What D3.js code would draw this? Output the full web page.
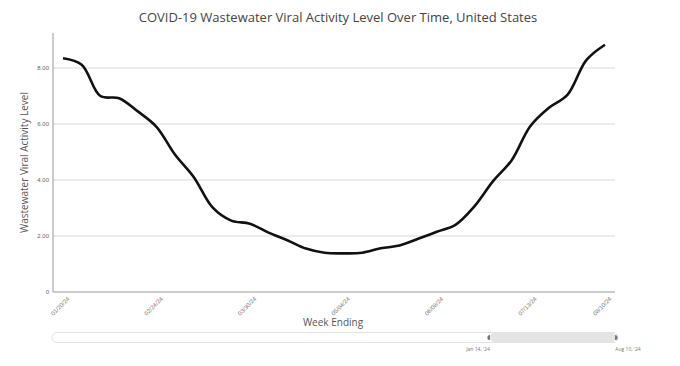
<!DOCTYPE html>
<html>
<head>
<meta charset="utf-8">
<script src="https://cdn.jsdelivr.net/npm/d3@7"></script>
<style>
  body { margin: 0; background: #fff; }
  svg { font-family: "Open Sans", sans-serif; }
</style>
</head>
<body>
<svg id="chart" width="680" height="366"></svg>
<script>
// weekly data, week ending dates
const weeks = ['2024-01-20','2024-01-27','2024-02-03','2024-02-10','2024-02-17','2024-02-24',
  '2024-03-02','2024-03-09','2024-03-16','2024-03-23','2024-03-30','2024-04-06','2024-04-13',
  '2024-04-20','2024-04-27','2024-05-04','2024-05-11','2024-05-18','2024-05-25','2024-06-01',
  '2024-06-08','2024-06-15','2024-06-22','2024-06-29','2024-07-06','2024-07-13','2024-07-20',
  '2024-07-27','2024-08-03','2024-08-10']
const levels = [8.35, 8.12, 7.0, 6.92, 6.45, 5.9, 4.9, 4.1, 3.02, 2.55, 2.44, 2.12, 1.85, 1.55,
  1.4, 1.38, 1.4, 1.56, 1.66, 1.9, 2.15, 2.4, 3.05, 3.95, 4.7, 5.92, 6.58, 7.05, 8.28, 8.83]
const xTickLabels = ['01/20/24','02/24/24','03/30/24','05/04/24','06/08/24','07/13/24','08/10/24']
const yTicks = [0, 2, 4, 6, 8]
const rangeLabels = ["Jan 14, '24", "Aug 10, '24"]

const parse = d3.timeParse('%Y-%m-%d')
const fmt = d3.timeFormat('%m/%d/%y')
const data = weeks.map((w, i) => ({date: parse(w), value: levels[i]}))

const margin = {top: 33, right: 65, bottom: 74, left: 53}
const width = 680, height = 366
const plotRight = 615

const svg = d3.select('#chart')

const x = d3.scaleTime()
  .domain(d3.extent(data, d => d.date))
  .range([63, 605])
const y = d3.scaleLinear()
  .domain([0, 9.25])
  .range([height - margin.bottom, margin.top])

// gridlines
svg.append('g')
  .selectAll('line')
  .data(yTicks.filter(d => d > 0))
  .enter().append('line')
  .attr('x1', margin.left).attr('x2', plotRight)
  .attr('y1', d => y(d)).attr('y2', d => y(d))
  .attr('stroke', '#d9d9d9').attr('stroke-width', 1)

// axis lines
svg.append('line')
  .attr('x1', margin.left).attr('x2', margin.left)
  .attr('y1', margin.top).attr('y2', y(0))
  .attr('stroke', '#999').attr('stroke-width', 1)
svg.append('line')
  .attr('x1', margin.left).attr('x2', plotRight)
  .attr('y1', y(0)).attr('y2', y(0))
  .attr('stroke', '#999').attr('stroke-width', 1)

// y axis
const yAxis = d3.axisLeft(y)
  .tickValues(yTicks)
  .tickSize(0)
  .tickPadding(4)
  .tickFormat(d => d === 0 ? '0' : d3.format('.2f')(d))
svg.append('g')
  .attr('transform', `translate(${margin.left},0)`)
  .call(yAxis)
  .call(g => g.select('.domain').remove())
  .selectAll('text')
  .style('font-size', '6px')
  .attr('fill', '#666')

// x axis
const xAxis = d3.axisBottom(x)
  .tickValues(xTickLabels.map(d => d3.timeParse('%m/%d/%y')(d)))
  .tickSize(0)
  .tickFormat(fmt)
svg.append('g')
  .attr('transform', `translate(0,${y(0)})`)
  .call(xAxis)
  .call(g => g.select('.domain').remove())
  .selectAll('text')
  .style('font-size', '6px')
  .attr('fill', '#777')
  .attr('text-anchor', 'end')
  .attr('dy', '0.3em')
  .attr('transform', 'translate(3,4) rotate(-45)')

// line
const line = d3.line()
  .x(d => x(d.date))
  .y(d => y(d.value))
  .curve(d3.curveCatmullRom.alpha(0.5))
svg.append('path')
  .datum(data)
  .attr('d', line)
  .attr('fill', 'none')
  .attr('stroke', '#111')
  .attr('stroke-width', 2.6)

// title and axis labels
svg.append('text')
  .attr('x', 338).attr('y', 22)
  .attr('text-anchor', 'middle')
  .style('font-size', '13px')
  .attr('fill', '#444')
  .text('COVID-19 Wastewater Viral Activity Level Over Time, United States')

svg.append('text')
  .attr('transform', `translate(28,${(margin.top + y(0)) / 2}) rotate(-90)`)
  .attr('text-anchor', 'middle')
  .style('font-size', '10px')
  .attr('fill', '#555')
  .text('Wastewater Viral Activity Level')

svg.append('text')
  .attr('x', 333).attr('y', 326)
  .attr('text-anchor', 'middle')
  .style('font-size', '10px')
  .attr('fill', '#555')
  .text('Week Ending')

// range slider
const slider = svg.append('g')
slider.append('rect')
  .attr('x', 52).attr('y', 332.5).attr('width', 566).attr('height', 10).attr('rx', 5)
  .attr('fill', '#fff').attr('stroke', '#e2e2e2')
slider.append('rect')
  .attr('x', 490).attr('y', 333).attr('width', 126).attr('height', 9).attr('rx', 4.5)
  .attr('fill', '#e4e4e4')
// handles: small half-discs
const arc = d3.arc().innerRadius(0).outerRadius(2.6)
slider.selectAll('.handle')
  .data([{x: 490, a0: Math.PI, a1: 2 * Math.PI}, {x: 615, a0: 0, a1: Math.PI}])
  .enter().append('path')
  .attr('transform', d => `translate(${d.x},337.5)`)
  .attr('d', d => arc({startAngle: d.a0, endAngle: d.a1}))
  .attr('fill', '#777')
slider.selectAll('.lbl')
  .data([{x: 478, t: rangeLabels[0]}, {x: 628, t: rangeLabels[1]}])
  .enter().append('text')
  .attr('x', d => d.x).attr('y', 351)
  .attr('text-anchor', 'middle')
  .style('font-size', '5px')
  .attr('fill', '#777')
  .text(d => d.t)
</script>
</body>
</html>
